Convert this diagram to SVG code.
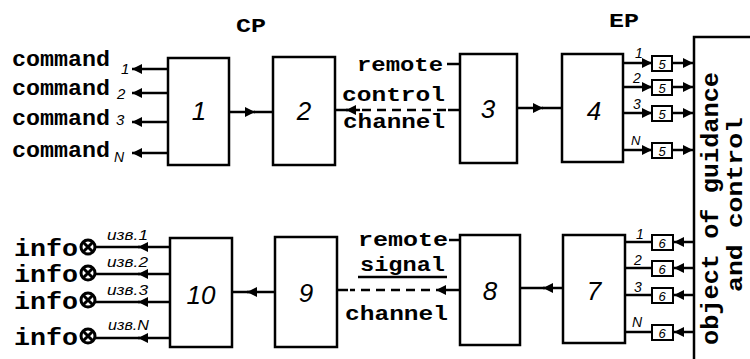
<svg xmlns="http://www.w3.org/2000/svg" width="750" height="359" viewBox="0 0 750 359">
<defs>
<style>
.blk{fill:#fff;stroke:#000;stroke-width:2.5}
.sm{fill:#fff;stroke:#000;stroke-width:2}
.ln{stroke:#000;stroke-width:2.5;fill:none}
.dash{stroke:#000;stroke-width:2.5;fill:none;stroke-dasharray:9 6}
.tw{font-family:"Liberation Mono","DejaVu Sans Mono",monospace;font-weight:bold;fill:#000}
.num{font-family:"Liberation Sans",Arial,sans-serif;font-style:italic;fill:#000;text-anchor:middle}
.lab{font-family:"Liberation Sans",Arial,sans-serif;font-style:italic;fill:#000}
</style>
<marker id="ar" viewBox="0 0 10 10" refX="10" refY="5" markerWidth="5" markerHeight="4" orient="auto" markerUnits="strokeWidth">
<path d="M0,0 L10,5 L0,10 z" fill="#000"/>
</marker>
</defs>
<rect width="750" height="359" fill="#fff"/>

<text class="tw" x="236" y="32" font-size="21" textLength="30" lengthAdjust="spacingAndGlyphs">CP</text>
<text class="tw" x="609" y="27" font-size="21" textLength="30" lengthAdjust="spacingAndGlyphs">EP</text>

<g id="commands">
<text class="tw" x="12" y="66" font-size="22" textLength="98" lengthAdjust="spacingAndGlyphs">command</text>
<text class="tw" x="12" y="95" font-size="22" textLength="98" lengthAdjust="spacingAndGlyphs">command</text>
<text class="tw" x="12" y="125" font-size="22" textLength="98" lengthAdjust="spacingAndGlyphs">command</text>
<text class="tw" x="12" y="157" font-size="22" textLength="98" lengthAdjust="spacingAndGlyphs">command</text>
<text class="lab" x="121" y="74" font-size="15">1</text>
<text class="lab" x="117" y="99" font-size="15">2</text>
<text class="lab" x="116" y="125" font-size="15">3</text>
<text class="lab" x="114" y="162" font-size="14">N</text>
</g>

<g id="infos">
<text class="tw" x="14" y="256" font-size="24" textLength="64" lengthAdjust="spacingAndGlyphs">info</text>
<text class="tw" x="14" y="282" font-size="24" textLength="64" lengthAdjust="spacingAndGlyphs">info</text>
<text class="tw" x="14" y="309" font-size="24" textLength="64" lengthAdjust="spacingAndGlyphs">info</text>
<text class="tw" x="14" y="345" font-size="24" textLength="64" lengthAdjust="spacingAndGlyphs">info</text>
<g id="lamps" stroke="#000" stroke-width="3" fill="#fff">
<circle cx="88" cy="247" r="7"/><path d="M83,242 L93,252 M93,242 L83,252"/>
<circle cx="88" cy="273" r="7"/><path d="M83,268 L93,278 M93,268 L83,278"/>
<circle cx="88" cy="300" r="7"/><path d="M83,295 L93,305 M93,295 L83,305"/>
<circle cx="88" cy="336" r="7"/><path d="M83,331 L93,341 M93,331 L83,341"/>
</g>
<text class="lab" x="107" y="240" font-size="15" textLength="41" lengthAdjust="spacingAndGlyphs">изв.1</text>
<text class="lab" x="107" y="267" font-size="15" textLength="41" lengthAdjust="spacingAndGlyphs">изв.2</text>
<text class="lab" x="107" y="295" font-size="15" textLength="41" lengthAdjust="spacingAndGlyphs">изв.3</text>
<text class="lab" x="108" y="330" font-size="15" textLength="41" lengthAdjust="spacingAndGlyphs">изв.N</text>
</g>

<g id="connectors">
<line class="ln" x1="168" y1="69" x2="132" y2="69" marker-end="url(#ar)"/>
<line class="ln" x1="168" y1="93" x2="132" y2="93" marker-end="url(#ar)"/>
<line class="ln" x1="168" y1="122" x2="132" y2="122" marker-end="url(#ar)"/>
<line class="ln" x1="168" y1="153" x2="132" y2="153" marker-end="url(#ar)"/>
<line class="ln" x1="229" y1="112" x2="255" y2="112" marker-end="url(#ar)"/>
<line class="ln" x1="254" y1="112" x2="273" y2="112"/>
<line class="ln" x1="360" y1="110" x2="346" y2="110" marker-end="url(#ar)"/>
<line class="ln" x1="335" y1="110" x2="348" y2="110"/>
<line class="dash" x1="362" y1="110" x2="446" y2="110"/>
<line class="ln" x1="448" y1="110" x2="460" y2="110"/>
<line class="ln" x1="447" y1="64" x2="460" y2="64"/>
<line class="ln" x1="517" y1="108" x2="543" y2="108" marker-end="url(#ar)"/>
<line class="ln" x1="542" y1="108" x2="562" y2="108"/>
<line class="ln" x1="623" y1="63" x2="652" y2="63" marker-end="url(#ar)"/>
<line class="ln" x1="623" y1="87" x2="652" y2="87" marker-end="url(#ar)"/>
<line class="ln" x1="623" y1="113" x2="652" y2="113" marker-end="url(#ar)"/>
<line class="ln" x1="623" y1="150" x2="652" y2="150" marker-end="url(#ar)"/>
<line class="ln" x1="672" y1="63" x2="693" y2="63" marker-end="url(#ar)"/>
<line class="ln" x1="672" y1="87" x2="693" y2="87" marker-end="url(#ar)"/>
<line class="ln" x1="672" y1="113" x2="693" y2="113" marker-end="url(#ar)"/>
<line class="ln" x1="672" y1="150" x2="693" y2="150" marker-end="url(#ar)"/>
<line class="ln" x1="693" y1="242" x2="674" y2="242" marker-end="url(#ar)"/>
<line class="ln" x1="693" y1="268" x2="674" y2="268" marker-end="url(#ar)"/>
<line class="ln" x1="693" y1="295" x2="674" y2="295" marker-end="url(#ar)"/>
<line class="ln" x1="693" y1="332" x2="674" y2="332" marker-end="url(#ar)"/>
<line class="ln" x1="652" y1="242" x2="625" y2="242"/>
<line class="ln" x1="652" y1="268" x2="625" y2="268"/>
<line class="ln" x1="652" y1="295" x2="625" y2="295"/>
<line class="ln" x1="652" y1="332" x2="625" y2="332"/>
<line class="ln" x1="563" y1="288" x2="543" y2="288" marker-end="url(#ar)"/>
<line class="ln" x1="545" y1="288" x2="520" y2="288"/>
<line class="ln" x1="460" y1="290" x2="436" y2="290" marker-end="url(#ar)"/>
<line class="dash" x1="430" y1="290" x2="350" y2="290"/>
<line class="ln" x1="348" y1="290" x2="337" y2="290"/>
<line class="ln" x1="449" y1="240" x2="460" y2="240"/>
<line class="ln" x1="358" y1="277" x2="447" y2="277" stroke-width="2"/>
<line class="ln" x1="275" y1="292" x2="247" y2="292" marker-end="url(#ar)"/>
<line class="ln" x1="250" y1="292" x2="232" y2="292"/>
<line class="ln" x1="170" y1="247" x2="138" y2="247" marker-end="url(#ar)"/>
<line class="ln" x1="140" y1="247" x2="95" y2="247"/>
<line class="ln" x1="170" y1="274" x2="138" y2="274" marker-end="url(#ar)"/>
<line class="ln" x1="140" y1="274" x2="95" y2="274"/>
<line class="ln" x1="170" y1="302" x2="138" y2="302" marker-end="url(#ar)"/>
<line class="ln" x1="140" y1="302" x2="95" y2="302"/>
<line class="ln" x1="170" y1="338" x2="138" y2="338" marker-end="url(#ar)"/>
<line class="ln" x1="140" y1="338" x2="95" y2="338"/>
</g>

<g id="b1"><rect class="blk" x="168" y="58" width="61" height="107"/><text class="num" x="199" y="120" font-size="26">1</text></g>
<g id="b2"><rect class="blk" x="273" y="57" width="62" height="108"/><text class="num" x="304" y="120" font-size="26">2</text></g>
<g id="b3"><rect class="blk" x="460" y="54" width="57" height="109"/><text class="num" x="488" y="118" font-size="26">3</text></g>
<g id="b4"><rect class="blk" x="562" y="54" width="61" height="108"/><text class="num" x="594" y="120" font-size="26">4</text></g>
<g id="b10"><rect class="blk" x="170" y="238" width="62" height="109"/><text class="num" x="201" y="304" font-size="26">10</text></g>
<g id="b9"><rect class="blk" x="275" y="237" width="62" height="110"/><text class="num" x="306" y="302" font-size="26">9</text></g>
<g id="b8"><rect class="blk" x="460" y="235" width="60" height="110"/><text class="num" x="490" y="300" font-size="26">8</text></g>
<g id="b7"><rect class="blk" x="563" y="235" width="62" height="108"/><text class="num" x="594" y="300" font-size="26">7</text></g>

<g id="b5">
<rect class="sm" x="652" y="56" width="20" height="15"/><text class="num" x="662" y="69" font-size="13">5</text>
<rect class="sm" x="652" y="80" width="20" height="15"/><text class="num" x="662" y="93" font-size="13">5</text>
<rect class="sm" x="652" y="106" width="20" height="15"/><text class="num" x="662" y="119" font-size="13">5</text>
<rect class="sm" x="652" y="143" width="20" height="15"/><text class="num" x="662" y="156" font-size="13">5</text>
<text class="lab" x="635" y="58" font-size="14">1</text>
<text class="lab" x="633" y="83" font-size="14">2</text>
<text class="lab" x="633" y="109" font-size="14">3</text>
<text class="lab" x="631" y="145" font-size="13">N</text>
</g>
<g id="b6">
<rect class="sm" x="652" y="235" width="21" height="15"/><text class="num" x="662" y="248" font-size="13">6</text>
<rect class="sm" x="652" y="261" width="21" height="15"/><text class="num" x="662" y="274" font-size="13">6</text>
<rect class="sm" x="652" y="288" width="21" height="15"/><text class="num" x="662" y="301" font-size="13">6</text>
<rect class="sm" x="652" y="325" width="21" height="15"/><text class="num" x="662" y="338" font-size="13">6</text>
<text class="lab" x="636" y="239" font-size="14">1</text>
<text class="lab" x="634" y="265" font-size="14">2</text>
<text class="lab" x="634" y="292" font-size="14">3</text>
<text class="lab" x="632" y="327" font-size="14">N</text>
</g>

<g id="channel-labels">
<text class="tw" x="357" y="71" font-size="20" textLength="86" lengthAdjust="spacingAndGlyphs">remote</text>
<text class="tw" x="342" y="101" font-size="20" textLength="103" lengthAdjust="spacingAndGlyphs">control</text>
<text class="tw" x="343" y="128" font-size="20" textLength="102" lengthAdjust="spacingAndGlyphs">channel</text>
<text class="tw" x="358" y="246" font-size="20" textLength="90" lengthAdjust="spacingAndGlyphs">remote</text>
<text class="tw" x="360" y="271" font-size="20" textLength="85" lengthAdjust="spacingAndGlyphs">signal</text>
<text class="tw" x="345" y="320" font-size="20" textLength="103" lengthAdjust="spacingAndGlyphs">channel</text>
</g>

<g id="object">
<path class="ln" d="M750,37 L694,37 L694,359"/>
<text class="tw" transform="translate(718,345) rotate(-90)" font-size="23" textLength="273" lengthAdjust="spacingAndGlyphs">object of guidance</text>
<text class="tw" transform="translate(742,292) rotate(-90)" font-size="22" textLength="175" lengthAdjust="spacingAndGlyphs">and control</text>
</g>
</svg>
